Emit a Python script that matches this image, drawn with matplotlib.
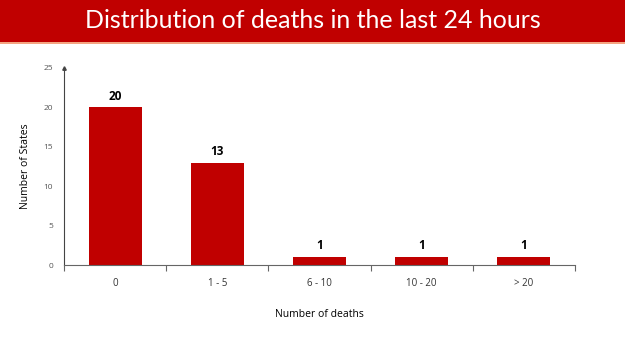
import numpy as np
import matplotlib.pyplot as plt
from matplotlib.patches import Rectangle

# Данные
categories = ["0", "1 - 5", "6 - 10", "10 - 20", "> 20"]
states = [20, 13, 1, 1, 1]
y_ticks = [0, 5, 10, 15, 20, 25]

red = "#C00000"
plt.rcParams["font.family"] = ["Open Sans", "DejaVu Sans"]

fig = plt.figure(figsize=(6.25, 3.51), dpi=100)

# Красная плашка с заголовком
fig.patches.append(Rectangle((0, 1 - 42 / 351), 1, 42 / 351, transform=fig.transFigure,
                             facecolor=red, edgecolor="none", zorder=0))
fig.patches.append(Rectangle((0, 1 - 44 / 351), 1, 2 / 351, transform=fig.transFigure,
                             facecolor="#F4A582", edgecolor="none", zorder=0))
fig.text(0.5, 1 - 21 / 351, "Distribution of deaths in the last 24 hours", color="white",
         ha="center", va="center", fontsize=18, family=["Lato", "DejaVu Sans"])

ax = fig.add_axes([64 / 625, 86 / 351, 511 / 625, 197 / 351])
x = np.arange(len(categories))
bars = ax.bar(x, states, width=0.52, color=red)
for xi, v in zip(x, states):
    ax.text(xi, v + 0.6, str(v), ha="center", va="bottom", fontsize=8.5, fontweight="bold", color="black")

ax.set_xlim(-0.5, len(categories) - 0.5)
ax.set_ylim(0, 25)
ax.set_yticks(y_ticks)
ax.tick_params(axis="y", length=0, labelsize=6, labelcolor="#555555", pad=8)
ax.set_xticks(np.arange(-0.5, len(categories), 1))
ax.set_xticklabels([])
ax.set_xticks(x, minor=True)
ax.set_xticklabels(categories, minor=True)
ax.tick_params(axis="x", which="major", length=4, color="#666666", direction="out")
ax.tick_params(axis="x", which="minor", length=0, labelsize=7, labelcolor="#333333", pad=9)

for s in ["top", "right"]:
    ax.spines[s].set_visible(False)
ax.spines["left"].set_color("#444444")
ax.spines["bottom"].set_color("#666666")
ax.plot(0, 1, "^", color="#444444", markersize=2.5, transform=ax.transAxes, clip_on=False)

ax.set_xlabel("Number of deaths", fontsize=7.5, labelpad=15)
ax.set_ylabel("Number of States", fontsize=7.5, labelpad=9)

fig.savefig("out.png", dpi=100)
